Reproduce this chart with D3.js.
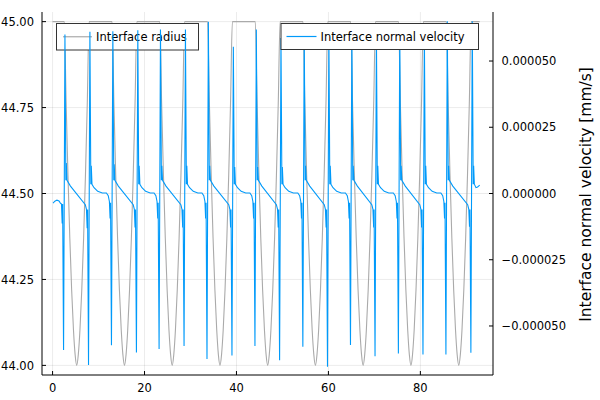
<!DOCTYPE html>
<html><head><meta charset="utf-8">
<script src="https://cdn.jsdelivr.net/npm/d3@7"></script>
<style>body{margin:0;background:#fff} text{font-family:"DejaVu Sans",sans-serif;fill:#000}</style>
</head><body><svg id="c" width="600" height="400"></svg>
<script>
const xTicks=[0,20,40,60,80];
const radiusTicks=[44.00,44.25,44.50,44.75,45.00];
const velocityTicks=[-5e-5,-2.5e-5,0,2.5e-5,5e-5];
const seriesNames=["Interface radius","Interface normal velocity"];
const rightAxisLabel="Interface normal velocity [mm/s]";

const radiusPoints=[
[0,45.000],
[2.55,45.000],[2.95,44.763],[3.35,44.552],[3.75,44.370],[4.15,44.219],[4.55,44.102],[4.90,44.032],[5.25,44.000],[5.60,44.032],[5.95,44.102],[6.35,44.219],[6.75,44.370],[7.15,44.552],[7.55,44.763],[7.95,45.000],
[12.94,45.000],[13.34,44.763],[13.74,44.552],[14.14,44.370],[14.54,44.219],[14.94,44.102],[15.29,44.032],[15.64,44.000],[15.99,44.032],[16.34,44.102],[16.74,44.219],[17.14,44.370],[17.54,44.552],[17.94,44.763],[18.34,45.000],
[23.32,45.000],[23.72,44.763],[24.12,44.552],[24.52,44.370],[24.92,44.219],[25.32,44.102],[25.67,44.032],[26.02,44.000],[26.37,44.032],[26.72,44.102],[27.12,44.219],[27.52,44.370],[27.92,44.552],[28.32,44.763],[28.72,45.000],
[33.71,45.000],[34.11,44.763],[34.51,44.552],[34.91,44.370],[35.31,44.219],[35.71,44.102],[36.06,44.032],[36.41,44.000],[36.76,44.032],[37.11,44.102],[37.51,44.219],[37.91,44.370],[38.31,44.552],[38.71,44.763],[39.11,45.000],
[44.09,45.000],[44.49,44.763],[44.89,44.552],[45.29,44.370],[45.69,44.219],[46.09,44.102],[46.44,44.032],[46.79,44.000],[47.14,44.032],[47.49,44.102],[47.89,44.219],[48.29,44.370],[48.69,44.552],[49.09,44.763],[49.49,45.000],
[54.47,45.000],[54.87,44.763],[55.27,44.552],[55.67,44.370],[56.07,44.219],[56.47,44.102],[56.82,44.032],[57.17,44.000],[57.52,44.032],[57.87,44.102],[58.27,44.219],[58.67,44.370],[59.07,44.552],[59.47,44.763],[59.87,45.000],
[64.85,45.000],[65.25,44.763],[65.65,44.552],[66.05,44.370],[66.45,44.219],[66.85,44.102],[67.20,44.032],[67.55,44.000],[67.90,44.032],[68.25,44.102],[68.65,44.219],[69.05,44.370],[69.45,44.552],[69.85,44.763],[70.25,45.000],
[75.25,45.000],[75.65,44.763],[76.05,44.552],[76.45,44.370],[76.85,44.219],[77.25,44.102],[77.60,44.032],[77.95,44.000],[78.30,44.032],[78.65,44.102],[79.05,44.219],[79.45,44.370],[79.85,44.552],[80.25,44.763],[80.65,45.000],
[85.65,45.000],[86.05,44.763],[86.45,44.552],[86.85,44.370],[87.25,44.219],[87.65,44.102],[88.00,44.032],[88.35,44.000],[88.70,44.032],[89.05,44.102],[89.45,44.219],[89.85,44.370],[90.25,44.552],[90.65,44.763],[91.05,45.000],
[92.90,45.000]
];

const velocityPoints=[
[0.10,-0.36e-5],[0.50,-0.29e-5],[0.95,-0.25e-5],[1.40,-0.28e-5],[1.70,-0.36e-5],[1.94,-0.40e-5],[2.09,-1.13e-5],[2.19,-0.40e-5],
[2.39,-5.91e-5],[2.69,6.00e-5],[2.89,0.50e-5],[2.99,1.15e-5],[3.14,0.50e-5],[3.89,0.28e-5],[7.12,-0.42e-5],[7.37,-0.60e-5],[7.52,-1.31e-5],[7.62,-0.60e-5],
[7.82,-6.47e-5],[8.12,6.10e-5],[8.32,0.35e-5],[8.42,1.05e-5],[8.57,0.35e-5],[9.02,0.22e-5],[9.82,0.08e-5],[10.82,0.02e-5],[11.71,0.02e-5],[12.11,-0.08e-5],[12.36,-0.30e-5],[12.51,-0.94e-5],[12.61,-0.35e-5],
[12.81,-5.73e-5],[13.11,6.12e-5],[13.31,0.50e-5],[13.41,1.10e-5],[13.56,0.50e-5],[14.31,0.28e-5],[17.54,-0.42e-5],[17.79,-0.60e-5],[17.94,-1.28e-5],[18.04,-0.60e-5],
[18.24,-6.00e-5],[18.54,6.16e-5],[18.74,0.35e-5],[18.84,1.05e-5],[18.99,0.35e-5],[19.44,0.22e-5],[20.24,0.08e-5],[21.24,0.02e-5],[22.07,0.02e-5],[22.47,-0.08e-5],[22.72,-0.30e-5],[22.87,-0.94e-5],[22.97,-0.35e-5],
[23.17,-5.87e-5],[23.47,6.19e-5],[23.67,0.50e-5],[23.77,1.05e-5],[23.92,0.50e-5],[24.67,0.28e-5],[27.90,-0.42e-5],[28.15,-0.60e-5],[28.30,-1.28e-5],[28.40,-0.60e-5],
[28.60,-5.76e-5],[28.90,6.19e-5],[29.10,0.35e-5],[29.20,1.05e-5],[29.35,0.35e-5],[29.80,0.22e-5],[30.60,0.08e-5],[31.60,0.02e-5],[32.49,0.02e-5],[32.89,-0.08e-5],[33.14,-0.30e-5],[33.29,-0.94e-5],[33.39,-0.35e-5],
[33.59,-6.25e-5],[33.89,6.48e-5],[34.09,0.50e-5],[34.19,1.05e-5],[34.34,0.50e-5],[35.09,0.28e-5],[38.32,-0.42e-5],[38.57,-0.60e-5],[38.72,-1.28e-5],[38.82,-0.60e-5],
[39.02,-6.11e-5],[39.32,5.54e-5],[39.52,0.35e-5],[39.62,1.00e-5],[39.77,0.35e-5],[40.22,0.22e-5],[41.02,0.08e-5],[42.02,0.02e-5],[42.92,0.02e-5],[43.32,-0.08e-5],[43.57,-0.30e-5],[43.72,-0.94e-5],[43.82,-0.35e-5],
[44.02,-5.76e-5],[44.32,6.19e-5],[44.52,0.50e-5],[44.62,1.00e-5],[44.77,0.50e-5],[45.52,0.28e-5],[48.68,-0.42e-5],[48.93,-0.60e-5],[49.08,-1.28e-5],[49.18,-0.60e-5],
[49.38,-6.29e-5],[49.68,5.87e-5],[49.88,0.35e-5],[49.98,1.00e-5],[50.13,0.35e-5],[50.58,0.22e-5],[51.38,0.08e-5],[52.38,0.02e-5],[53.34,0.02e-5],[53.74,-0.08e-5],[53.99,-0.30e-5],[54.14,-0.94e-5],[54.24,-0.35e-5],
[54.44,-5.78e-5],[54.74,6.10e-5],[54.94,0.50e-5],[55.04,1.05e-5],[55.19,0.50e-5],[55.94,0.28e-5],[59.10,-0.42e-5],[59.35,-0.60e-5],[59.50,-1.28e-5],[59.60,-0.60e-5],
[59.80,-6.54e-5],[60.10,6.10e-5],[60.30,0.35e-5],[60.40,1.05e-5],[60.55,0.35e-5],[61.00,0.22e-5],[61.80,0.08e-5],[62.80,0.02e-5],[63.70,0.02e-5],[64.10,-0.08e-5],[64.35,-0.30e-5],[64.50,-0.94e-5],[64.60,-0.35e-5],
[64.80,-5.72e-5],[65.10,6.10e-5],[65.30,0.50e-5],[65.40,1.05e-5],[65.55,0.50e-5],[66.30,0.28e-5],[69.44,-0.42e-5],[69.69,-0.60e-5],[69.84,-1.28e-5],[69.94,-0.60e-5],
[70.14,-6.14e-5],[70.44,6.05e-5],[70.64,0.35e-5],[70.74,1.05e-5],[70.89,0.35e-5],[71.34,0.22e-5],[72.14,0.08e-5],[73.14,0.02e-5],[74.12,0.02e-5],[74.52,-0.08e-5],[74.77,-0.30e-5],[74.92,-0.94e-5],[75.02,-0.35e-5],
[75.22,-6.04e-5],[75.52,6.15e-5],[75.72,0.50e-5],[75.82,1.05e-5],[75.97,0.50e-5],[76.72,0.28e-5],[79.87,-0.42e-5],[80.12,-0.60e-5],[80.27,-1.28e-5],[80.37,-0.60e-5],
[80.57,-6.08e-5],[80.87,6.10e-5],[81.07,0.35e-5],[81.17,1.05e-5],[81.32,0.35e-5],[81.77,0.22e-5],[82.57,0.08e-5],[83.57,0.02e-5],[84.46,0.02e-5],[84.86,-0.08e-5],[85.11,-0.30e-5],[85.26,-0.94e-5],[85.36,-0.35e-5],
[85.56,-6.08e-5],[85.86,6.50e-5],[86.06,0.50e-5],[86.16,1.05e-5],[86.31,0.50e-5],[87.06,0.28e-5],[90.29,-0.42e-5],[90.54,-0.60e-5],[90.69,-1.25e-5],[90.79,-0.60e-5],
[90.99,-6.01e-5],[91.29,6.50e-5],[91.49,0.35e-5],[91.59,1.05e-5],[91.74,0.35e-5],[92.10,0.22e-5],[92.45,0.24e-5],[92.90,0.32e-5]
];

const L=42,R=493,T=12,B=375;
const svg=d3.select("#c");
const x=d3.scaleLinear().domain([-2.3,95.8]).range([L,R]);
const yL=d3.scaleLinear().domain([43.972,45.028]).range([B,T]);
const yR=d3.scaleLinear().domain([-6.85e-5,6.85e-5]).range([B,T]);
const fs=11.5;
const grey="#aaaaaa", blue="#009AFA";

svg.append("defs").append("clipPath").attr("id","clip").append("rect")
  .attr("x",L).attr("y",T).attr("width",R-L).attr("height",B-T);

// grid
const grid=svg.append("g").attr("stroke","#000").attr("stroke-opacity",0.1).attr("stroke-width",0.8);
grid.selectAll(".gx").data(xTicks).join("line")
  .attr("x1",d=>x(d)).attr("x2",d=>x(d)).attr("y1",T).attr("y2",B);
grid.selectAll(".gy").data(radiusTicks).join("line")
  .attr("x1",L).attr("x2",R).attr("y1",d=>yL(d)).attr("y2",d=>yL(d));

// radius line
svg.append("path").datum(radiusPoints)
  .attr("clip-path","url(#clip)")
  .attr("fill","none").attr("stroke",grey).attr("stroke-width",1.1)
  .attr("d",d3.line().x(d=>x(d[0])).y(d=>yL(d[1])).curve(d3.curveMonotoneX));

function legend(x0,y0,w,h,color,name,lx0,lx1,tx){
  const g=svg.append("g");
  g.append("rect").attr("x",x0).attr("y",y0).attr("width",w).attr("height",h)
    .attr("fill","#fff").attr("stroke","#333").attr("stroke-width",1);
  const cy=y0+h/2;
  g.append("line").attr("x1",lx0).attr("x2",lx1).attr("y1",cy).attr("y2",cy)
    .attr("stroke",color).attr("stroke-width",1.2);
  g.append("text").attr("x",tx).attr("y",cy).attr("dy","0.35em")
    .attr("font-size",fs).text(name);
}
legend(56.5,23.5,142,26.5,grey,seriesNames[0],63,92,96);

// velocity line
svg.append("path").datum(velocityPoints)
  .attr("clip-path","url(#clip)")
  .attr("fill","none").attr("stroke",blue).attr("stroke-width",1.1)
  .attr("d",d3.line().x(d=>x(d[0])).y(d=>yR(d[1])));

legend(281,23.5,197.5,26,blue,seriesNames[1],286.5,316.5,320.5);

// axes
const ax=svg.append("g").attr("stroke","#000").attr("stroke-width",1);
ax.append("line").attr("x1",L).attr("x2",L).attr("y1",T).attr("y2",B);
ax.append("line").attr("x1",L).attr("x2",R).attr("y1",B).attr("y2",B);
ax.append("line").attr("x1",R).attr("x2",R).attr("y1",T).attr("y2",B);
ax.selectAll(".tx").data(xTicks).join("line").attr("x1",d=>x(d)).attr("x2",d=>x(d)).attr("y1",B).attr("y2",B-4);
ax.selectAll(".tyl").data(radiusTicks).join("line").attr("x1",L).attr("x2",L+4).attr("y1",d=>yL(d)).attr("y2",d=>yL(d));
ax.selectAll(".tyr").data(velocityTicks).join("line").attr("x1",R).attr("x2",R-4).attr("y1",d=>yR(d)).attr("y2",d=>yR(d));

svg.selectAll(".lx").data(xTicks).join("text")
  .attr("x",d=>x(d)).attr("y",391.5).attr("text-anchor","middle").attr("font-size",fs).text(d=>d);
svg.selectAll(".ll").data(radiusTicks).join("text")
  .attr("x",34).attr("y",d=>yL(d)).attr("dy","0.36em").attr("text-anchor","end").attr("font-size",fs)
  .text(d=>d.toFixed(2));
svg.selectAll(".lr").data(velocityTicks).join("text")
  .attr("x",501.5).attr("y",d=>yR(d)).attr("dy","0.36em").attr("font-size",fs)
  .text(d=>(d<0?"\u2212":"")+Math.abs(d).toFixed(6));
svg.append("text").attr("transform","translate(591,194.5) rotate(-90)")
  .attr("text-anchor","middle").attr("font-size",15.5).text(rightAxisLabel);
</script></body></html>
